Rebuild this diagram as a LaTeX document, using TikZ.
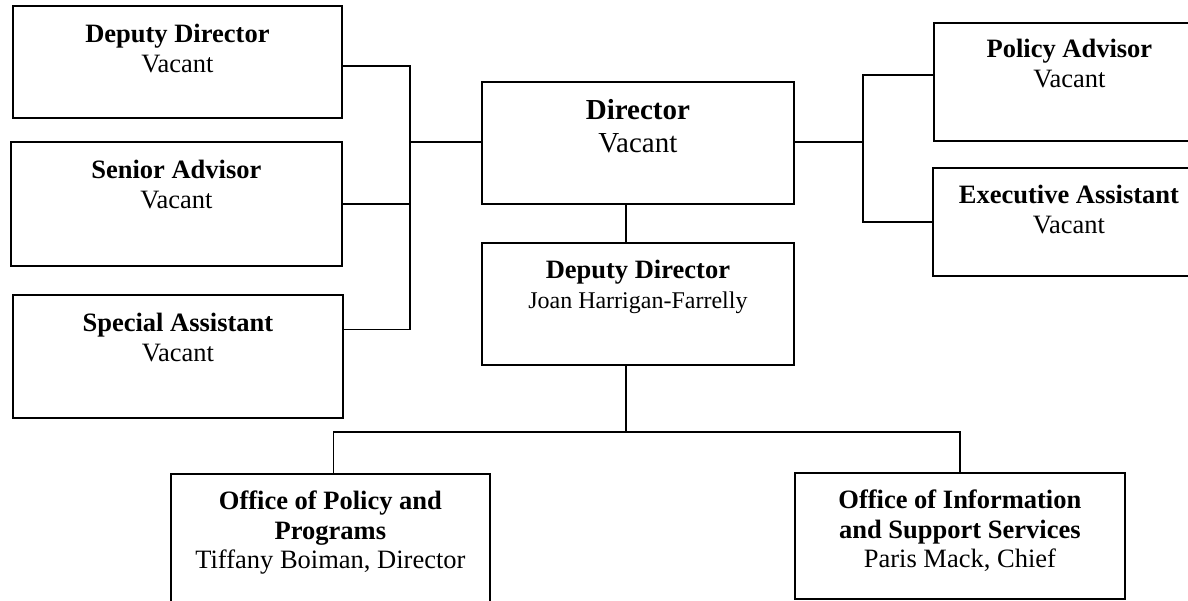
\documentclass[tikz,border=0pt]{standalone}
\usepackage{fontspec}
\setmainfont{Liberation Serif}
\usetikzlibrary{positioning}

% text block in a box: width, height, space above first baseline, lines
\newcommand{\posttext}[4]{\parbox[t][#2][t]{#1}{\centering\rule{0pt}{#3}#4}}

\begin{document}
\begin{tikzpicture}[x=1pt, y=-1pt,
    box/.style={draw, line width=1.8pt, inner sep=0pt, anchor=north west,
        font=\fontsize{26.5}{29.5}\selectfont},
    link/.style={line width=1.4pt}]
    \clip (0,0) rectangle (1188,600);

    % Staff on the left
    \node[box] (dd) at (12,5) {\posttext{329pt}{112pt}{37pt}{\textbf{Deputy Director}\\Vacant}};
    \node[box] (sa) at (10,141) {\posttext{331pt}{124pt}{37pt}{\textbf{Senior Advisor}\\Vacant}};
    \node[box] (spa) at (12,294) {\posttext{330pt}{123pt}{37pt}{\textbf{Special Assistant}\\Vacant}};

    % Director and deputy
    \node[box, font=\fontsize{29}{33}\selectfont] (dir) at (481,81)
        {\posttext{312pt}{122pt}{38pt}{\textbf{Director}\\Vacant}};
    \node[box] (ddj) at (481,242)
        {\posttext{312pt}{122pt}{36pt}{\textbf{Deputy Director}\\{\fontsize{24}{28}\selectfont Joan Harrigan-Farrelly}}};

    % Staff on the right
    \node[box] (pa) at (933,22) {\posttext{271pt}{118pt}{35pt}{\textbf{Policy Advisor}\\Vacant}};
    \node[box] (ea) at (932,167) {\posttext{272pt}{108pt}{36pt}{\textbf{Executive Assistant}\\Vacant}};

    % Offices
    \node[box] (opp) at (170,473)
        {\posttext{319pt}{145pt}{36pt}{\textbf{Office of Policy and}\\\textbf{Programs}\\Tiffany Boiman, Director}};
    \node[box] (oiss) at (794,472)
        {\posttext{330pt}{126pt}{36pt}{\textbf{Office of Information}\\\textbf{and Support Services}\\Paris Mack, Chief}};

    % Connectors
    \coordinate (lbus) at (410,142);
    \coordinate (rbus) at (863,142);
    \coordinate (bbus) at (626,432);

    \draw[link] ([yshift=-4pt]dd.east) -| (lbus);
    \draw[link] ([yshift=27pt]spa.east) -| (lbus);
    \draw[link] (sa.east) -- (sa.east -| lbus);
    \draw[link] (lbus) -- (lbus -| dir.west);

    \draw[link] (rbus -| dir.east) -- (rbus);
    \draw[link] ([yshift=7pt]pa.west) -| (rbus);
    \draw[link] (ea.west) -| (rbus);

    \draw[link] ([xshift=-12pt]dir.south) -- ([xshift=-12pt]dir.south |- ddj.north);
    \draw[link] (bbus |- ddj.south) -- (bbus);
    \draw[link] (bbus) -| ([xshift=3pt]opp.north);
    \draw[link] (bbus) -| (oiss.north);

\end{tikzpicture}
\end{document}
